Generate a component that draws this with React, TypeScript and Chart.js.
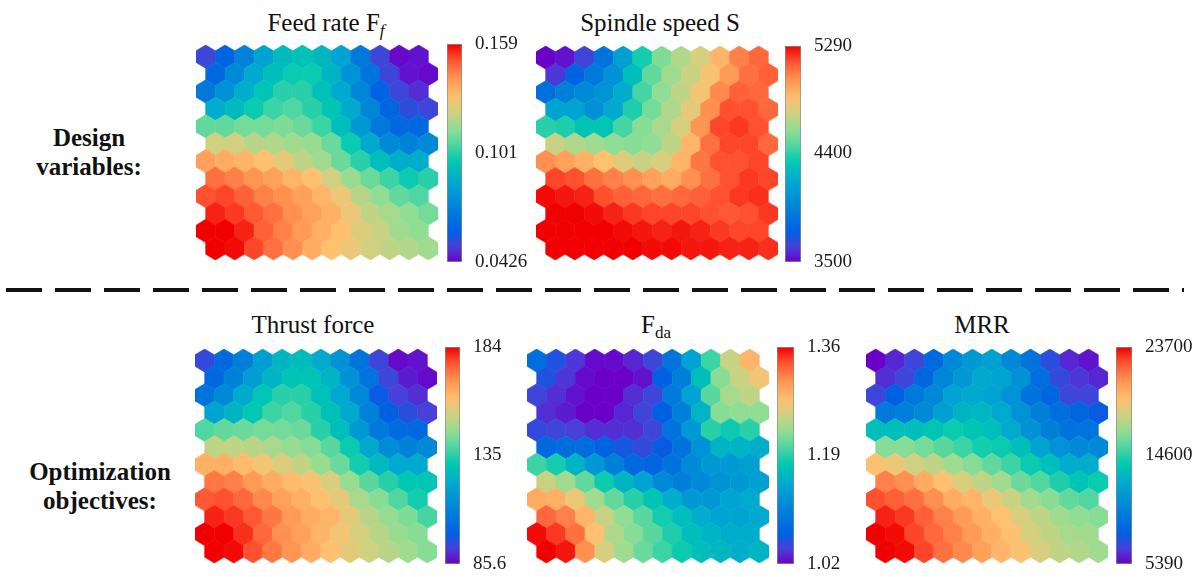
import React, { useEffect, useRef } from "react";
import { Chart, registerables } from "chart.js";

Chart.register(...registerables);

const FONT = '"Liberation Serif", "Times New Roman", Times, serif';

// Cell levels, as a percentage of each colour bar's range.
// 12 rows (top to bottom) x 12 columns (left to right); odd rows are shifted right by half a cell.
const feedRate: number[][] = [
  [8, 15, 25, 35, 42, 44, 41, 35, 22, 8, 1, 2],
  [17, 27, 37, 43, 47, 47, 40, 30, 20, 8, 2, 1],
  [22, 30, 38, 45, 50, 50, 44, 37, 26, 15, 8, 5],
  [38, 42, 47, 52, 54, 50, 45, 37, 26, 16, 10, 8],
  [56, 56, 58, 58, 59, 57, 52, 43, 32, 22, 17, 17],
  [69, 69, 66, 65, 63, 62, 57, 47, 37, 27, 25, 27],
  [82, 80, 78, 76, 72, 67, 63, 57, 50, 43, 38, 38],
  [89, 87, 84, 82, 78, 76, 69, 62, 57, 52, 47, 50],
  [93, 94, 91, 87, 85, 82, 78, 73, 66, 61, 56, 54],
  [97, 95, 92, 89, 85, 82, 79, 73, 67, 64, 61, 58],
  [100, 100, 97, 91, 87, 83, 79, 76, 71, 68, 63, 61],
  [100, 99, 94, 89, 85, 80, 76, 73, 69, 67, 65, 63],
];

const spindleSpeed: number[][] = [
  [0, 2, 8, 20, 34, 48, 59, 65, 70, 78, 87, 90],
  [6, 15, 22, 30, 43, 56, 63, 68, 75, 83, 89, 91],
  [19, 24, 27, 30, 38, 53, 61, 67, 74, 86, 91, 90],
  [35, 35, 30, 37, 49, 58, 65, 72, 85, 93, 93, 90],
  [50, 49, 45, 45, 53, 60, 64, 70, 84, 94, 95, 93],
  [68, 65, 63, 61, 60, 61, 67, 78, 89, 94, 94, 90],
  [85, 82, 79, 76, 71, 68, 70, 78, 88, 93, 93, 94],
  [94, 93, 89, 87, 85, 82, 80, 85, 89, 93, 95, 94],
  [99, 98, 97, 93, 91, 90, 89, 90, 91, 93, 95, 96],
  [100, 100, 99, 97, 95, 94, 94, 94, 93, 92, 93, 95],
  [100, 100, 100, 100, 99, 98, 97, 98, 97, 95, 94, 94],
  [100, 100, 100, 100, 100, 99, 99, 98, 98, 97, 97, 96],
];

const thrustForce: number[][] = [
  [9, 17, 24, 34, 40, 42, 37, 30, 20, 8, 1, 2],
  [17, 25, 33, 40, 45, 45, 40, 30, 20, 8, 3, 1],
  [20, 27, 37, 45, 50, 50, 44, 37, 27, 13, 7, 5],
  [35, 40, 46, 52, 54, 50, 44, 37, 25, 14, 10, 7],
  [54, 56, 57, 58, 58, 57, 50, 43, 32, 22, 18, 17],
  [67, 67, 66, 64, 62, 60, 55, 47, 37, 28, 25, 27],
  [79, 79, 77, 74, 71, 67, 62, 57, 48, 42, 37, 37],
  [88, 87, 83, 80, 77, 75, 70, 62, 55, 50, 46, 45],
  [92, 93, 90, 86, 82, 79, 76, 72, 64, 60, 54, 48],
  [97, 95, 92, 88, 83, 80, 78, 72, 66, 62, 59, 53],
  [100, 100, 96, 90, 85, 82, 78, 74, 70, 66, 62, 60],
  [100, 99, 93, 88, 84, 80, 76, 72, 69, 66, 63, 60],
];

const fda: number[][] = [
  [19, 11, 6, 1, 1, 4, 8, 20, 35, 52, 68, 78],
  [11, 6, 1, 0, 0, 2, 14, 24, 43, 60, 68, 74],
  [8, 5, 2, 0, 0, 5, 8, 22, 35, 55, 64, 67],
  [5, 3, 0, 0, 4, 8, 14, 24, 40, 60, 61, 61],
  [9, 8, 7, 5, 5, 5, 8, 20, 32, 50, 47, 50],
  [17, 19, 18, 15, 12, 9, 13, 20, 30, 40, 40, 38],
  [52, 48, 40, 32, 24, 17, 16, 20, 27, 32, 32, 34],
  [68, 63, 56, 47, 40, 35, 27, 24, 27, 30, 32, 34],
  [80, 79, 73, 63, 56, 50, 45, 38, 32, 32, 35, 37],
  [90, 87, 78, 68, 61, 55, 48, 43, 38, 35, 35, 37],
  [99, 95, 89, 76, 65, 60, 55, 49, 43, 40, 38, 38],
  [100, 98, 85, 70, 63, 57, 52, 47, 43, 41, 38, 40],
];

const mrr: number[][] = [
  [0, 4, 8, 17, 27, 32, 34, 27, 20, 10, 4, 2],
  [5, 8, 16, 26, 32, 37, 35, 30, 19, 9, 6, 4],
  [8, 14, 22, 27, 35, 37, 35, 30, 20, 16, 8, 8],
  [22, 24, 27, 34, 40, 41, 37, 30, 24, 19, 16, 13],
  [43, 43, 43, 45, 47, 45, 43, 37, 30, 24, 20, 20],
  [60, 60, 58, 55, 52, 48, 47, 43, 35, 30, 27, 27],
  [76, 73, 69, 67, 63, 60, 56, 52, 47, 43, 38, 38],
  [87, 85, 80, 76, 70, 67, 63, 57, 54, 49, 45, 47],
  [93, 91, 89, 85, 80, 78, 73, 68, 63, 60, 56, 54],
  [97, 95, 91, 87, 83, 79, 76, 70, 67, 63, 61, 60],
  [100, 99, 94, 90, 87, 83, 79, 76, 70, 67, 64, 63],
  [100, 99, 94, 89, 86, 82, 78, 75, 70, 67, 65, 63],
];

// Colour-bar tick values (bottom, middle, top)
const feedRateTicks = [0.0426, 0.101, 0.159];
const spindleSpeedTicks = [3500, 4400, 5290];
const thrustForceTicks = [85.6, 135, 184];
const fdaTicks = [1.02, 1.19, 1.36];
const mrrTicks = [5390, 14600, 23700];

// Rainbow colour map stops: [position, r, g, b]
const CMAP: number[][] = [
  [0.0, 106, 0, 200],
  [0.07, 72, 64, 216],
  [0.14, 0, 96, 226],
  [0.25, 0, 130, 216],
  [0.36, 0, 166, 208],
  [0.46, 0, 200, 178],
  [0.54, 80, 214, 160],
  [0.61, 144, 222, 148],
  [0.69, 208, 208, 128],
  [0.76, 255, 192, 112],
  [0.85, 255, 144, 80],
  [0.93, 255, 80, 48],
  [1.0, 240, 0, 0],
];

function cmap(t: number): string {
  const v = Math.max(0, Math.min(1, t));
  for (let i = 1; i < CMAP.length; i++) {
    if (v <= CMAP[i][0]) {
      const a = CMAP[i - 1];
      const b = CMAP[i];
      const f = (v - a[0]) / (b[0] - a[0]);
      const r = Math.round(a[1] + (b[1] - a[1]) * f);
      const g = Math.round(a[2] + (b[2] - a[2]) * f);
      const bl = Math.round(a[3] + (b[3] - a[3]) * f);
      return `rgb(${r},${g},${bl})`;
    }
  }
  return "rgb(240,0,0)";
}

const hexPlugin = {
  id: "hexCells",
  afterDatasetsDraw(chart: any) {
    const { ctx } = chart;
    const xs = chart.scales.x;
    const ys = chart.scales.y;
    const data = chart.data.datasets[0].data as any[];
    const px = (v: number) => xs.getPixelForValue(v);
    const py = (v: number) => ys.getPixelForValue(v);
    ctx.save();
    data.forEach((d) => {
      const col = cmap(d.v / 100);
      ctx.beginPath();
      ctx.moveTo(px(d.x), py(d.y - 2 / 3));
      ctx.lineTo(px(d.x + 0.5), py(d.y - 1 / 3));
      ctx.lineTo(px(d.x + 0.5), py(d.y + 1 / 3));
      ctx.lineTo(px(d.x), py(d.y + 2 / 3));
      ctx.lineTo(px(d.x - 0.5), py(d.y + 1 / 3));
      ctx.lineTo(px(d.x - 0.5), py(d.y - 1 / 3));
      ctx.closePath();
      ctx.fillStyle = col;
      ctx.fill();
      ctx.strokeStyle = col;
      ctx.lineWidth = 0.6;
      ctx.stroke();
    });
    ctx.restore();
  },
};

type Box = { x: number; y: number; w: number; h: number };

function HexMap({ levels, box }: { levels: number[][]; box: Box }) {
  const ref = useRef<HTMLCanvasElement>(null);
  useEffect(() => {
    const pts: any[] = [];
    levels.forEach((row, r) =>
      row.forEach((v, c) => pts.push({ x: c + (r % 2 ? 0.5 : 0), y: r, v }))
    );
    const chart = new Chart(ref.current as HTMLCanvasElement, {
      type: "scatter",
      data: { datasets: [{ data: pts, pointRadius: 0, pointHoverRadius: 0 }] },
      options: {
        animation: false,
        responsive: false,
        events: [],
        layout: { padding: 0 },
        plugins: { legend: { display: false }, tooltip: { enabled: false } },
        scales: {
          x: { type: "linear", display: false, min: -0.5, max: 12 },
          y: { type: "linear", display: false, min: -2 / 3, max: 11 + 2 / 3, reverse: true },
        },
      } as any,
      plugins: [hexPlugin],
    });
    return () => chart.destroy();
  }, [levels]);
  return (
    <canvas
      ref={ref}
      width={box.w}
      height={box.h}
      style={{ position: "absolute", left: box.x, top: box.y, width: box.w, height: box.h }}
    />
  );
}

function ColorBar({ ticks, box }: { ticks: number[]; box: Box }) {
  const ref = useRef<HTMLCanvasElement>(null);
  const PAD = 14;
  const AXW = 80;
  useEffect(() => {
    const min = ticks[0];
    const max = ticks[ticks.length - 1];
    const chart = new Chart(ref.current as HTMLCanvasElement, {
      type: "bar",
      data: {
        labels: [""],
        datasets: [
          {
            data: [[min, max]] as any,
            backgroundColor: (c: any) => {
              const ca = c.chart.chartArea;
              if (!ca) return "#888";
              const g = c.chart.ctx.createLinearGradient(0, ca.bottom, 0, ca.top);
              for (let i = 0; i <= 40; i++) g.addColorStop(i / 40, cmap(i / 40));
              return g;
            },
            borderColor: "#8c8c8c",
            borderWidth: 1,
            borderSkipped: false,
            barPercentage: 1,
            categoryPercentage: 1,
          },
        ],
      },
      options: {
        animation: false,
        responsive: false,
        events: [],
        layout: { padding: { top: PAD, bottom: PAD, left: 0, right: 0 } },
        plugins: { legend: { display: false }, tooltip: { enabled: false } },
        scales: {
          x: { display: false },
          y: {
            position: "right",
            min,
            max,
            grid: { display: false },
            border: { display: false },
            ticks: {
              padding: 5,
              color: "#1a1a1a",
              font: { family: FONT, size: 19 },
              callback: (v: any) => String(v),
            },
            afterBuildTicks: (s: any) => {
              s.ticks = ticks.map((value) => ({ value }));
            },
            afterFit: (s: any) => {
              s.width = AXW;
              s.paddingTop = 0;
              s.paddingBottom = 0;
            },
          },
        },
      } as any,
    });
    return () => chart.destroy();
  }, [ticks]);
  const W = box.w + AXW;
  const H = box.h + 2 * PAD;
  return (
    <canvas
      ref={ref}
      width={W}
      height={H}
      style={{ position: "absolute", left: box.x, top: box.y - PAD, width: W, height: H }}
    />
  );
}

const titleStyle = (cx: number, baseline: number): React.CSSProperties => ({
  position: "absolute",
  left: cx - 150,
  width: 300,
  top: baseline - 21,
  textAlign: "center",
  fontFamily: FONT,
  fontSize: 25,
  lineHeight: "25px",
  color: "#111",
  whiteSpace: "nowrap",
});

const subStyle: React.CSSProperties = {
  fontSize: "0.68em",
  position: "relative",
  top: "0.3em",
  verticalAlign: "baseline",
};

const sideStyle = (cx: number, top: number): React.CSSProperties => ({
  position: "absolute",
  left: cx - 110,
  width: 220,
  top,
  textAlign: "center",
  fontFamily: FONT,
  fontWeight: "bold",
  fontSize: 25,
  lineHeight: "29px",
  color: "#111",
});

export default function App() {
  return (
    <div
      style={{
        position: "absolute",
        left: 0,
        top: 0,
        width: 1197,
        height: 577,
        background: "#fff",
        overflow: "hidden",
      }}
    >
      <div style={titleStyle(326, 31)}>
        Feed rate F<span style={subStyle}><i>f</i></span>
      </div>
      <div style={titleStyle(660, 31)}>Spindle speed S</div>
      <div style={titleStyle(313, 333)}>Thrust force</div>
      <div style={titleStyle(656, 333)}>
        F<span style={subStyle}>da</span>
      </div>
      <div style={titleStyle(982, 333)}>MRR</div>

      <div style={sideStyle(89, 123)}>
        Design
        <br />
        variables:
      </div>
      <div style={sideStyle(100, 457)}>
        Optimization
        <br />
        objectives:
      </div>

      <div
        style={{
          position: "absolute",
          left: 6,
          top: 288,
          width: 1178,
          height: 4,
          background: "repeating-linear-gradient(to right, #111 0px, #111 36px, transparent 36px, transparent 49px)",
        }}
      />

      <HexMap levels={feedRate} box={{ x: 196, y: 45, w: 242, h: 215 }} />
      <ColorBar ticks={feedRateTicks} box={{ x: 447, y: 44, w: 15, h: 218 }} />

      <HexMap levels={spindleSpeed} box={{ x: 536, y: 46, w: 242, h: 214 }} />
      <ColorBar ticks={spindleSpeedTicks} box={{ x: 785, y: 46, w: 16, h: 216 }} />

      <HexMap levels={thrustForce} box={{ x: 195, y: 349, w: 242, h: 214 }} />
      <ColorBar ticks={thrustForceTicks} box={{ x: 445, y: 347, w: 15, h: 217 }} />

      <HexMap levels={fda} box={{ x: 527, y: 349, w: 242, h: 214 }} />
      <ColorBar ticks={fdaTicks} box={{ x: 777, y: 347, w: 17, h: 217 }} />

      <HexMap levels={mrr} box={{ x: 866, y: 349, w: 242, h: 214 }} />
      <ColorBar ticks={mrrTicks} box={{ x: 1116, y: 347, w: 16, h: 217 }} />

      <div
        style={{
          position: "absolute",
          left: 1186,
          top: 440,
          fontFamily: FONT,
          fontSize: 19,
          lineHeight: "19px",
          color: "#555",
        }}
      >
        ·
      </div>
    </div>
  );
}
